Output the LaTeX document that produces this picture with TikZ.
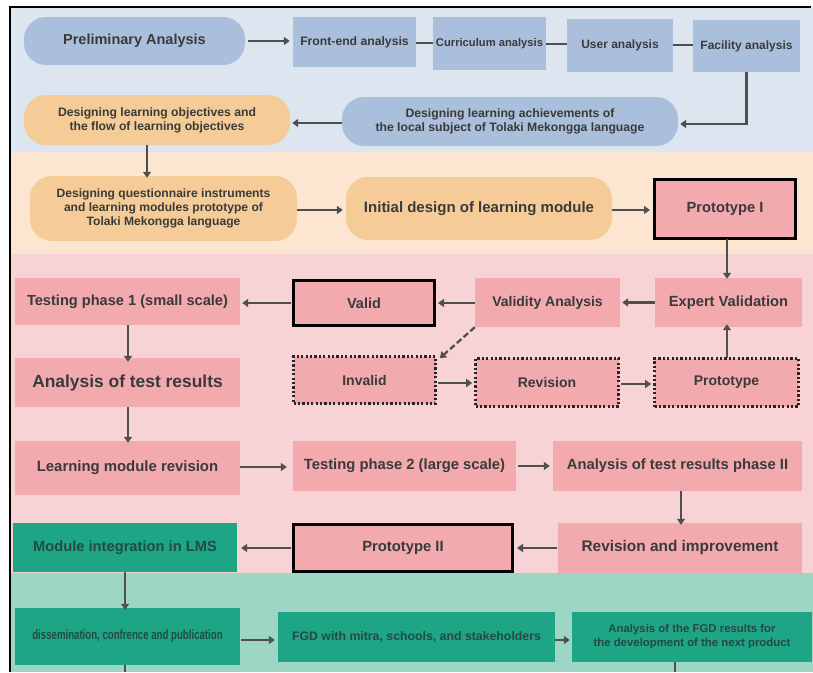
\documentclass[tikz,border=0pt]{standalone}
\usepackage{fontspec}
\setmainfont{Liberation Sans}
\newfontfamily\narrowfont{Liberation Sans}[FakeStretch=0.72]
\usetikzlibrary{arrows.meta}
\definecolor{bandblue}{HTML}{DCE5F0}
\definecolor{bandorange}{HTML}{FCE6D1}
\definecolor{bandpink}{HTML}{F7D3D5}
\definecolor{bandgreen}{HTML}{9ED6C6}
\definecolor{nodeblue}{HTML}{AABFDC}
\definecolor{nodeorange}{HTML}{F5CC97}
\definecolor{nodepink}{HTML}{F2AAAF}
\definecolor{nodegreen}{HTML}{1DA586}
\definecolor{txt}{HTML}{3A3A3A}
\definecolor{gtxt}{HTML}{244A42}
\definecolor{arr}{HTML}{4F4F4F}
\tikzset{
  box/.style={rectangle, minimum width=#1, inner sep=2pt, align=center, text=txt, font=\bfseries},
  pill/.style={rounded corners=22pt},
  bluebox/.style={fill=nodeblue},
  orangebox/.style={fill=nodeorange},
  pinkbox/.style={fill=nodepink},
  greenbox/.style={fill=nodegreen, text=gtxt},
  thickframe/.style={draw=black, line width=3pt},
  dotframe/.style={draw=black!85, line width=2.6pt, dash pattern=on 2.2pt off 2.2pt},
  conn/.style={draw=arr, line width=2.3pt},
  arrowc/.style={conn, -{Triangle[length=6pt,width=8pt]}},
}
\begin{document}
\begin{tikzpicture}[x=1pt,y=-1pt]
\useasboundingbox (0,0) rectangle (813,672);
\fill[white] (0,0) rectangle (813,672);
% bands
\fill[bandblue] (10,7) rectangle (813,152);
\fill[bandorange] (10,152) rectangle (813,254);
\fill[bandpink] (10,254) rectangle (813,573);
\fill[bandgreen] (10,573) rectangle (813,672);
\draw[black, line width=1.6pt] (10,672) -- (10,7) -- (811,7);

% row 1
\node[box=221pt, minimum height=48pt, bluebox, pill, font=\bfseries\fontsize{14.5}{16}\selectfont] (prelim) at (134.5,41) {Preliminary Analysis};
\node[box=123pt, minimum height=50pt, bluebox, font=\bfseries\fontsize{12.2}{14}\selectfont] (front) at (354.5,42) {Front-end analysis};
\node[box=113pt, minimum height=53pt, bluebox, font=\bfseries\fontsize{11.2}{13}\selectfont] (curr) at (489.5,43.5) {Curriculum analysis};
\node[box=106pt, minimum height=53pt, bluebox, font=\bfseries\fontsize{12}{14}\selectfont] (user) at (620,45.5) {User analysis};
\node[box=107pt, minimum height=52pt, bluebox, font=\bfseries\fontsize{12}{14}\selectfont] (facil) at (746.5,46) {Facility analysis};

% row 2
\node[box=336pt, minimum height=49pt, bluebox, pill, font=\bfseries\fontsize{12.2}{14}\selectfont] (achieve) at (510,121.5) {Designing learning achievements of\\the local subject of Tolaki Mekongga language};
\node[box=266pt, minimum height=50pt, orangebox, pill, font=\bfseries\fontsize{12.2}{14}\selectfont] (object) at (157,120) {Designing learning objectives and\\the flow of learning objectives};

% row 3
\node[box=267pt, minimum height=65pt, orangebox, pill, font=\bfseries\fontsize{12.1}{14}\selectfont] (quest) at (163.5,208.5) {Designing questionnaire instruments\\and learning modules prototype of\\Tolaki Mekongga language};
\node[box=266pt, minimum height=63pt, orangebox, pill, font=\bfseries\fontsize{15}{17}\selectfont] (initial) at (479,208.5) {Initial design of learning module};
\node[box=141pt, minimum height=59pt, pinkbox, thickframe, font=\bfseries\fontsize{14.7}{17}\selectfont] (proto1) at (725,209) {Prototype I};

% row 4
\node[box=147pt, minimum height=49pt, pinkbox, font=\bfseries\fontsize{14.7}{17}\selectfont] (expert) at (728.5,302.5) {Expert Validation};
\node[box=145pt, minimum height=49pt, pinkbox, font=\bfseries\fontsize{14}{16}\selectfont] (validity) at (547.5,302.5) {Validity Analysis};
\node[box=141pt, minimum height=45pt, pinkbox, thickframe, font=\bfseries\fontsize{14.5}{16}\selectfont] (valid) at (364,303) {Valid};
\node[box=225pt, minimum height=47pt, pinkbox, font=\bfseries\fontsize{14.6}{16}\selectfont] (test1) at (127.5,301.5) {Testing phase 1 (small scale)};

% row 5
\node[box=142pt, minimum height=47pt, pinkbox, dotframe, font=\bfseries\fontsize{14}{16}\selectfont] (invalid) at (364.5,380) {Invalid};
\node[box=143pt, minimum height=48pt, pinkbox, dotframe, font=\bfseries\fontsize{14}{16}\selectfont] (revision) at (547,382.5) {Revision};
\node[box=144pt, minimum height=48pt, pinkbox, dotframe, font=\bfseries\fontsize{14}{16}\selectfont] (proto) at (726.5,382.5) {Prototype};
\node[box=225pt, minimum height=49pt, pinkbox, font=\bfseries\fontsize{17.4}{19}\selectfont] (anal1) at (127.5,382.5) {Analysis of test results};

% row 6
\node[box=225pt, minimum height=54pt, pinkbox, font=\bfseries\fontsize{14.9}{17}\selectfont] (lmrev) at (127.5,468) {Learning module revision};
\node[box=223pt, minimum height=50pt, pinkbox, font=\bfseries\fontsize{14.8}{17}\selectfont] (test2) at (404.5,466) {Testing phase 2 (large scale)};
\node[box=249pt, minimum height=50pt, pinkbox, font=\bfseries\fontsize{14.8}{17}\selectfont] (anal2) at (677.5,466) {Analysis of test results phase II};

% row 7
\node[box=244pt, minimum height=50pt, pinkbox, font=\bfseries\fontsize{15.4}{17}\selectfont] (revimp) at (680,548) {Revision and improvement};
\node[box=219pt, minimum height=47pt, pinkbox, thickframe, font=\bfseries\fontsize{14.8}{17}\selectfont] (proto2) at (403,548) {Prototype II};
\node[box=224pt, minimum height=49pt, greenbox, font=\bfseries\fontsize{14.7}{17}\selectfont] (lms) at (125,547.5) {Module integration in LMS};

% row 8
\node[box=225pt, minimum height=57pt, greenbox, font=\narrowfont\bfseries\fontsize{13.4}{15}\selectfont] (dissem) at (127.5,636.5) {dissemination, confrence and publication};
\node[box=277pt, minimum height=50pt, greenbox, font=\bfseries\fontsize{12.3}{14}\selectfont] (fgd) at (416.5,637) {FGD with mitra, schools, and stakeholders};
\node[box=240pt, minimum height=50pt, greenbox, font=\bfseries\fontsize{11.4}{14}\selectfont] (fgdan) at (692,637) {Analysis of the FGD results for\\the development of the next product};

\coordinate (out1) at (125,672);
\coordinate (out2) at (675,672);

% connectors
\path[arrowc] ([xshift=3pt]prelim.east) -- ([xshift=-3pt]prelim.east -| front.west);
\path[conn] (front.east |- 0,43) -- (curr.west |- 0,43);
\path[conn] (curr.east |- 0,44) -- (user.west |- 0,44);
\path[conn] (user.east |- 0,45) -- (facil.west |- 0,45);
\path[arrowc] (facil.south) -- (facil.south |- 0,124) -- ([xshift=2pt]achieve.east |- 0,124);
\path[arrowc] (achieve.west |- 0,123) -- ([xshift=2pt]object.east |- 0,123);
\path[arrowc] (object.south -| 147,0) -- ([yshift=-2pt]quest.north -| 147,0);
\path[arrowc] (quest.east |- 0,210) -- ([xshift=-3pt]initial.west |- 0,210);
\path[arrowc] (initial.east |- 0,210) -- ([xshift=-3pt]proto1.west |- 0,210);
\path[arrowc] ([yshift=1pt]proto1.south -| 727,0) -- ([yshift=-1pt]expert.north -| 727,0);
\path[arrowc] (expert.west) -- ([xshift=2pt]validity.east);
\path[arrowc] (validity.west |- valid.east) -- ([xshift=2pt]valid.east);
\path[arrowc] ([xshift=-1pt]valid.west) -- ([xshift=2pt]test1.east |- valid.west);
\path[arrowc, dashed, dash pattern=on 6pt off 3pt] (validity.south west) -- ([xshift=3pt,yshift=-3pt]invalid.north east);
\path[arrowc] ([xshift=1pt]invalid.east |- 0,383) -- ([xshift=-2pt]revision.west |- 0,383);
\path[arrowc] ([xshift=1pt]revision.east |- 0,384) -- ([xshift=-2pt]proto.west |- 0,384);
\path[arrowc] ([yshift=-1pt]proto.north -| 727,0) -- ([yshift=3pt]expert.south -| 727,0);
\path[arrowc] (test1.south -| 128,0) -- ([yshift=-4pt]anal1.north -| 128,0);
\path[arrowc] (anal1.south -| 128,0) -- ([yshift=-2pt]lmrev.north -| 128,0);
\path[arrowc] (lmrev.east |- 0,467) -- ([xshift=-6pt]test2.west |- 0,467);
\path[arrowc] ([xshift=2pt]test2.east |- 0,466) -- ([xshift=-3pt]anal2.west |- 0,466);
\path[arrowc] (anal2.south -| 681,0) -- ([yshift=-2pt]revimp.north -| 681,0);
\path[arrowc] ([xshift=-1pt]revimp.west) -- ([xshift=3pt]proto2.east);
\path[arrowc] ([xshift=-1pt]proto2.west) -- ([xshift=4pt]lms.east |- proto2.west);
\path[arrowc] (lms.south -| 125,0) -- ([yshift=-2pt]dissem.north -| 125,0);
\path[arrowc] ([xshift=1pt]dissem.east |- 0,640) -- ([xshift=-3pt]fgd.west |- 0,640);
\path[arrowc] (fgd.east |- 0,640) -- ([xshift=-2pt]fgdan.west |- 0,640);
\path[conn] (dissem.south -| out1) -- (out1);
\path[conn] (fgdan.south -| out2) -- (out2);
\end{tikzpicture}
\end{document}
